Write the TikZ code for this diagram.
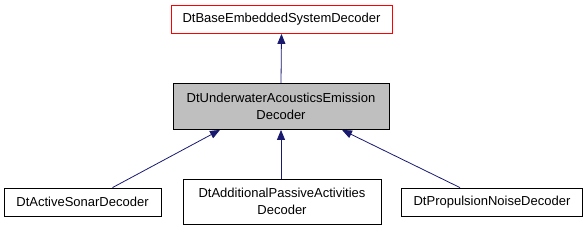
\documentclass[tikz,border=0pt]{standalone}
\usepackage{fontspec}
\setmainfont{Liberation Sans}
\usepackage{xcolor}
\usetikzlibrary{positioning,arrows.meta}
\definecolor{cEdge}{HTML}{191970}
\definecolor{cBase}{HTML}{FF0000}
\definecolor{cSelf}{HTML}{BFBFBF}

\begin{document}
\begin{tikzpicture}[x=1pt,y=-1pt]
  \tikzset{
    cls/.style={draw=black, line width=0.8pt, fill=white, align=center, inner sep=0pt,
      font=\fontsize{13}{17.5}\selectfont, minimum height=28pt},
    base/.style={cls, draw=cBase},
    self/.style={cls, fill=cSelf},
    inherit/.style={draw=cEdge, line width=0.8pt, -{Triangle[length=10pt,width=8pt]}},
  }
  \useasboundingbox (0,0) rectangle (587,232);
  % base class
  \node[base, minimum width=221pt] (base) at (281.5,19.5) {DtBaseEmbeddedSystemDecoder};
  % this class
  \node[self, minimum width=216pt, minimum height=46pt] (emission) at (281,106.5)
    {DtUnderwaterAcousticsEmission\\Decoder};
  % derived classes
  \node[cls, minimum width=157pt] (sonar) at (82.5,202) {DtActiveSonarDecoder};
  \node[cls, minimum width=198pt, minimum height=45pt] (passive) at (282,201.5)
    {DtAdditionalPassiveActivities\\Decoder};
  \node[cls, minimum width=181pt] (propulsion) at (492,202) {DtPropulsionNoiseDecoder};
  % inheritance
  \draw[inherit] (emission.north) -- (base.south);
  \draw[inherit] ([xshift=30pt]sonar.north) -- ([xshift=-61pt]emission.south);
  \draw[inherit] (passive.north -| emission.south) -- (emission.south);
  \draw[inherit] ([xshift=-32pt]propulsion.north) -- ([xshift=61pt]emission.south);
\end{tikzpicture}
\end{document}
